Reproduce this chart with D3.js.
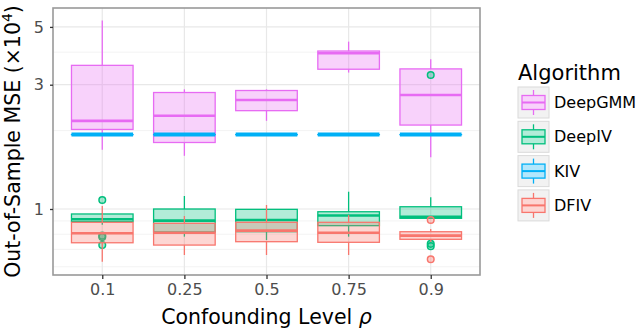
<!DOCTYPE html>
<html>
<head>
<meta charset="utf-8">
<script src="https://cdn.jsdelivr.net/npm/d3@7"></script>
<style>
  body { margin: 0; background: #fff; }
  svg { font-family: "DejaVu Sans", sans-serif; }
</style>
</head>
<body>
<div id="chart"></div>
<script>
// Confounding levels on the x axis
const categories = ["0.1", "0.25", "0.5", "0.75", "0.9"];
const algorithms = ["DeepGMM", "DeepIV", "KIV", "DFIV"];
const colors = ["#E76BF3", "#00BF7D", "#00B0F6", "#F8766D"];

// box stats per category: [whisker low, q1, median, q3, whisker high] (x10^4)
const deepGMM = [
  [1.69, 2.02, 2.18, 3.56, 5.29],
  [1.60, 1.80, 2.28, 2.80, 2.88],
  [2.18, 2.385, 2.62, 2.85, 2.88],
  [3.34, 3.44, 3.96, 4.04, 4.39],
  [1.58, 2.10, 2.74, 3.45, 3.76]
];
const deepIV = [
  [0.87, 0.894, 0.913, 0.957, 0.96],
  [0.783, 0.816, 0.902, 1.0, 1.122],
  [0.76, 0.818, 0.907, 0.997, 1.0],
  [0.783, 0.863, 0.944, 0.976, 1.165],
  [0.915, 0.921, 0.934, 1.02, 1.109]
];
const kiv = [
  [1.93, 1.93, 1.93, 1.93, 1.93],
  [1.93, 1.93, 1.93, 1.93, 1.93],
  [1.93, 1.93, 1.93, 1.93, 1.93],
  [1.93, 1.93, 1.93, 1.93, 1.93],
  [1.93, 1.93, 1.93, 1.93, 1.93]
];
const dfiv = [
  [0.628, 0.742, 0.807, 0.889, 1.027],
  [0.666, 0.727, 0.811, 0.881, 0.940],
  [0.666, 0.749, 0.826, 0.889, 1.036],
  [0.666, 0.745, 0.811, 0.889, 0.948],
  [0.749, 0.765, 0.790, 0.818, 0.838]
];

// outliers per category
const deepGMMOut = [[], [], [], [], []];
const deepIVOut = [[1.083, 0.79, 0.78, 0.727], [], [], [], [3.27, 0.735, 0.72]];
const kivOut = [[], [], [], [], []];
const dfivOut = [[], [], [], [], [0.907, 0.641]];

const yTicks = [1, 3, 5];
const yMinor = [0.6, 0.7, 0.8, 0.9, 2, 4];

const stats = [deepGMM, deepIV, kiv, dfiv];
const outs = [deepGMMOut, deepIVOut, kivOut, dfivOut];

const width = 640, height = 331;
const panel = { left: 53, right: 480, top: 8, bottom: 275 };

const svg = d3.select('#chart').append('svg')
  .attr('width', width)
  .attr('height', height);

const x = d3.scalePoint()
  .domain(categories)
  .range([panel.left, panel.right])
  .padding(0.6);

const y = d3.scaleLog()
  .domain([0.558, 5.91])
  .range([panel.bottom, panel.top]);

const boxW = x.step() * 0.75;

// panel background + grid
svg.append('rect')
  .attr('x', panel.left).attr('y', panel.top)
  .attr('width', panel.right - panel.left)
  .attr('height', panel.bottom - panel.top)
  .attr('fill', '#fff');

const grid = svg.append('g');
grid.selectAll('line.minor')
  .data(yMinor)
  .join('line')
  .attr('x1', panel.left).attr('x2', panel.right)
  .attr('y1', d => y(d)).attr('y2', d => y(d))
  .attr('stroke', '#F3F3F3').attr('stroke-width', 1);
grid.selectAll('line.major')
  .data(yTicks)
  .join('line')
  .attr('x1', panel.left).attr('x2', panel.right)
  .attr('y1', d => y(d)).attr('y2', d => y(d))
  .attr('stroke', '#E8E8E8').attr('stroke-width', 1.2);
grid.selectAll('line.vert')
  .data(categories)
  .join('line')
  .attr('x1', d => x(d)).attr('x2', d => x(d))
  .attr('y1', panel.top).attr('y2', panel.bottom)
  .attr('stroke', '#E8E8E8').attr('stroke-width', 1.2);

// boxplots, drawn in legend order
const plot = svg.append('g');
stats.forEach((series, ai) => {
  const col = colors[ai];
  const g = plot.append('g');
  series.forEach((s, ci) => {
    const cx = x(categories[ci]);
    const [lo, q1, med, q3, hi] = s;
    // whiskers
    g.append('line')
      .attr('x1', cx).attr('x2', cx)
      .attr('y1', y(hi)).attr('y2', y(q3))
      .attr('stroke', col).attr('stroke-width', 1.3);
    g.append('line')
      .attr('x1', cx).attr('x2', cx)
      .attr('y1', y(q1)).attr('y2', y(lo))
      .attr('stroke', col).attr('stroke-width', 1.3);
    // box
    g.append('rect')
      .attr('x', cx - boxW / 2)
      .attr('y', y(q3))
      .attr('width', boxW)
      .attr('height', Math.max(0.01, y(q1) - y(q3)))
      .attr('fill', col).attr('fill-opacity', 0.3)
      .attr('stroke', col).attr('stroke-width', 1.3);
    // median
    g.append('line')
      .attr('x1', cx - boxW / 2).attr('x2', cx + boxW / 2)
      .attr('y1', y(med)).attr('y2', y(med))
      .attr('stroke', col).attr('stroke-width', ai === 2 ? 4 : 2.6);
    // outliers
    g.selectAll(null)
      .data(outs[ai][ci])
      .join('circle')
      .attr('cx', cx).attr('cy', d => y(d))
      .attr('r', 3.3)
      .attr('fill', col).attr('fill-opacity', 0.35)
      .attr('stroke', col).attr('stroke-width', 1.5);
  });
});

// panel border
svg.append('rect')
  .attr('x', panel.left).attr('y', panel.top)
  .attr('width', panel.right - panel.left)
  .attr('height', panel.bottom - panel.top)
  .attr('fill', 'none')
  .attr('stroke', '#999').attr('stroke-width', 1.6);

// axes
const xAxis = svg.append('g')
  .attr('transform', `translate(0,${panel.bottom})`)
  .call(d3.axisBottom(x).tickSize(4).tickPadding(5));
const yAxis = svg.append('g')
  .attr('transform', `translate(${panel.left},0)`)
  .call(d3.axisLeft(y).tickValues(yTicks).tickFormat(d3.format('d')).tickSize(3).tickPadding(6));
[xAxis, yAxis].forEach(a => {
  a.select('.domain').remove();
  a.selectAll('.tick line').attr('stroke', '#333').attr('stroke-width', 1.3);
  a.selectAll('.tick text')
    .attr('fill', '#4D4D4D')
    .style('font-size', '16px')
    .style('font-family', '"DejaVu Sans", sans-serif');
});

// axis titles
svg.append('text')
  .attr('x', (panel.left + panel.right) / 2)
  .attr('y', 324)
  .attr('text-anchor', 'middle')
  .style('font-size', '20.5px')
  .text('Confounding Level ')
  .append('tspan').style('font-style', 'italic').text('ρ');

const yt = svg.append('text')
  .attr('transform', `translate(20,${(panel.top + panel.bottom) / 2}) rotate(-90)`)
  .attr('text-anchor', 'middle')
  .style('font-size', '20.5px')
  .text('Out-of-Sample MSE (×10');
yt.append('tspan').attr('dy', -8).style('font-size', '14px').text('4');
yt.append('tspan').attr('dy', 8).text(')');

// legend
const legend = svg.append('g').attr('transform', 'translate(518,0)');
legend.append('text')
  .attr('x', 0).attr('y', 80)
  .style('font-size', '21px')
  .text('Algorithm');

const keyTop = d3.scaleLinear().domain([0, 1]).range([87, 121.3]);
algorithms.forEach((name, i) => {
  const col = colors[i];
  const ky = keyTop(i);
  const k = legend.append('g').attr('transform', `translate(0,${ky})`);
  k.append('rect')
    .attr('x', 0).attr('y', 0).attr('width', 31).attr('height', 31)
    .attr('fill', '#F2F2F2').attr('stroke', '#DADADA').attr('stroke-width', 1);
  k.append('line').attr('x1', 15.5).attr('x2', 15.5).attr('y1', 3).attr('y2', 28)
    .attr('stroke', col).attr('stroke-width', 1.3);
  k.append('rect')
    .attr('x', 4).attr('y', 8.5).attr('width', 23).attr('height', 14)
    .attr('fill', '#fff').attr('stroke', 'none');
  k.append('rect')
    .attr('x', 4).attr('y', 8.5).attr('width', 23).attr('height', 14)
    .attr('fill', col).attr('fill-opacity', 0.3)
    .attr('stroke', col).attr('stroke-width', 1.3);
  k.append('line').attr('x1', 4).attr('x2', 27).attr('y1', 15.5).attr('y2', 15.5)
    .attr('stroke', col).attr('stroke-width', 2);
  k.append('text')
    .attr('x', 36).attr('y', 15.5)
    .attr('dy', '0.35em')
    .style('font-size', '16px')
    .text(name);
});
</script>
</body>
</html>
